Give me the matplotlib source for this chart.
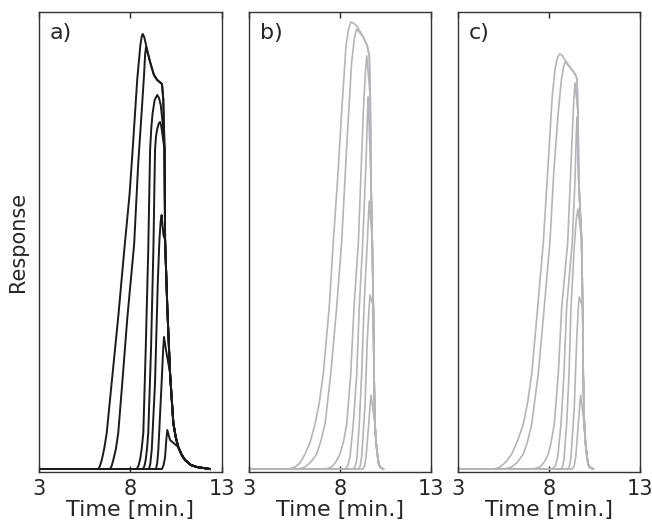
import matplotlib
matplotlib.use("Agg")
import matplotlib.pyplot as plt

# times [min.] and responses (arb. units)
a_t = [
    [3.0, 6.24, 6.33, 6.43, 6.56, 6.70, 6.97, 7.33, 7.66, 7.95, 8.12, 8.37, 8.54, 8.62, 8.67],
    [3.0, 6.88, 6.97, 7.06, 7.20, 7.33, 7.55, 7.83, 8.20, 8.42, 8.61, 8.74, 8.80, 8.85],
    [3.0, 8.34, 8.43, 8.52, 8.61, 8.70, 8.83, 8.97, 9.07, 9.14, 9.21, 9.32, 9.46, 9.56, 9.65, 9.77],
    [3.0, 8.68, 8.76, 8.83, 8.90, 8.97, 9.12, 9.25, 9.34, 9.39, 9.45, 9.53, 9.61, 9.68, 9.75],
    [3.0, 9.01, 9.08, 9.16, 9.34, 9.49, 9.58, 9.65, 9.70, 9.80],
    [3.0, 9.39, 9.46, 9.52, 9.70, 9.78, 9.83, 9.94],
    [3.0, 9.72, 9.81, 9.89, 9.96, 10.01, 10.16],
]
a_r = [
    [0, 0, 0.03, 0.09, 0.20, 0.36, 0.86, 1.52, 2.19, 2.75, 3.20, 3.90, 4.24, 4.33, 4.35],
    [0, 0, 0.03, 0.09, 0.20, 0.36, 0.86, 1.52, 2.25, 3.05, 3.57, 3.94, 4.15, 4.22],
    [0, 0, 0.03, 0.09, 0.20, 0.36, 1.19, 2.19, 3.19, 3.42, 3.56, 3.69, 3.74, 3.71, 3.64, 3.44],
    [0, 0, 0.03, 0.09, 0.20, 0.36, 1.19, 2.19, 3.19, 3.32, 3.39, 3.45, 3.47, 3.43, 3.34],
    [0, 0, 0.05, 0.19, 0.86, 1.86, 2.29, 2.48, 2.54, 2.34],
    [0, 0, 0.06, 0.19, 0.86, 1.18, 1.32, 1.19],
    [0, 0, 0.04, 0.12, 0.30, 0.39, 0.29],
]
a_tail_t = [8.75, 8.85, 9.07, 9.28, 9.46, 9.65, 9.72, 9.79, 9.86, 9.89, 10.01, 10.16,
            10.34, 10.47, 10.61, 10.80, 10.98, 11.30, 11.62, 12.34, 13.0]
a_tail_r = [4.32, 4.24, 4.07, 3.94, 3.89, 3.91, 3.85, 3.70, 3.19, 2.29, 1.62, 0.96,
            0.46, 0.32, 0.22, 0.14, 0.09, 0.04, 0.02, 0.0, 0.0]

b_t = [
    [3.0, 5.07, 5.35, 5.53, 5.80, 6.08, 6.36, 6.63, 6.86, 7.08, 7.41, 7.63, 7.87, 8.09, 8.33, 8.47, 8.60],
    [3.0, 5.69, 5.88, 6.08, 6.40, 6.72, 6.95, 7.18, 7.49, 7.82, 8.09, 8.37, 8.64, 8.80, 8.92],
    [3.0, 7.07, 7.30, 7.54, 7.77, 8.00, 8.20, 8.37, 8.59, 8.77, 9.01, 9.28, 9.40, 9.47],
    [3.0, 8.27, 8.42, 8.55, 8.73, 8.92, 9.06, 9.25, 9.43, 9.50, 9.55],
    [3.0, 8.73, 8.84, 8.92, 9.06, 9.19, 9.32, 9.50, 9.57, 9.61],
    [3.0, 9.01, 9.11, 9.19, 9.37, 9.50, 9.60, 9.65],
    [3.0, 9.25, 9.35, 9.43, 9.58, 9.66, 9.70],
]
b_r = [
    [0, 0, 0.008, 0.02, 0.06, 0.15, 0.27, 0.45, 0.66, 0.95, 1.62, 2.27, 2.90, 3.57, 4.23, 4.40, 4.47],
    [0, 0, 0.008, 0.02, 0.07, 0.15, 0.28, 0.45, 0.95, 1.62, 2.27, 3.23, 4.07, 4.32, 4.40],
    [0, 0, 0.006, 0.02, 0.07, 0.15, 0.28, 0.45, 0.95, 1.62, 2.27, 3.57, 3.98, 4.13],
    [0, 0, 0.03, 0.12, 0.45, 0.95, 1.62, 2.27, 3.07, 3.50, 3.72],
    [0, 0, 0.03, 0.09, 0.45, 0.95, 1.62, 2.27, 2.55, 2.68],
    [0, 0, 0.03, 0.12, 0.62, 1.29, 1.62, 1.74],
    [0, 0, 0.03, 0.12, 0.45, 0.66, 0.74],
]
b_tail_t = [8.72, 8.92, 9.28, 9.50, 9.61, 9.66, 9.70, 9.77, 9.83, 9.87, 9.92, 9.98,
            10.05, 10.12, 10.20, 10.38, 11.70]
b_tail_r = [4.46, 4.43, 4.32, 4.23, 4.13, 3.73, 2.90, 2.29, 1.62, 0.95, 0.45, 0.27,
            0.15, 0.06, 0.02, 0.0, 0.0]

c_t = [
    [3.0, 4.92, 5.12, 5.31, 5.63, 5.95, 6.27, 6.59, 6.83, 7.05, 7.38, 7.69, 7.96, 8.18, 8.33, 8.46, 8.57],
    [3.0, 5.47, 5.70, 5.95, 6.27, 6.59, 6.83, 7.05, 7.41, 7.74, 8.05, 8.27, 8.51, 8.68, 8.80, 8.88],
    [3.0, 6.96, 7.23, 7.51, 7.74, 7.96, 8.13, 8.29, 8.51, 8.70, 9.03, 9.25, 9.36, 9.43],
    [3.0, 8.18, 8.35, 8.48, 8.66, 8.82, 8.97, 9.28, 9.43, 9.50, 9.54],
    [3.0, 8.66, 8.75, 8.82, 8.97, 9.10, 9.21, 9.38, 9.50, 9.59],
    [3.0, 9.03, 9.13, 9.21, 9.39, 9.52, 9.61, 9.66],
    [3.0, 9.28, 9.38, 9.47, 9.61, 9.70, 9.74],
]
c_r = [
    [0, 0, 0.007, 0.02, 0.07, 0.15, 0.28, 0.45, 0.67, 0.95, 1.62, 2.27, 3.07, 3.73, 4.00, 4.11, 4.15],
    [0, 0, 0.007, 0.02, 0.07, 0.15, 0.28, 0.45, 0.95, 1.62, 2.27, 2.99, 3.57, 3.89, 4.02, 4.07],
    [0, 0, 0.006, 0.02, 0.07, 0.15, 0.28, 0.45, 0.95, 1.62, 2.27, 3.23, 3.68, 3.86],
    [0, 0, 0.03, 0.12, 0.45, 0.95, 1.62, 2.27, 2.90, 3.35, 3.52],
    [0, 0, 0.03, 0.09, 0.45, 0.95, 1.62, 2.20, 2.50, 2.60],
    [0, 0, 0.03, 0.12, 0.62, 1.285, 1.60, 1.72],
    [0, 0, 0.03, 0.12, 0.45, 0.66, 0.735],
]
c_tail_t = [8.70, 8.88, 9.15, 9.43, 9.54, 9.59, 9.63, 9.79, 9.85, 9.88, 9.94, 10.00,
            10.07, 10.14, 10.21, 10.43, 11.72]
c_tail_r = [4.14, 4.09, 4.02, 3.95, 3.90, 3.57, 2.90, 2.29, 1.62, 0.95, 0.45, 0.27,
            0.15, 0.06, 0.02, 0.0, 0.0]

panel_labels = ["a)", "b)", "c)"]
xticks = [3, 8, 13]


def join(t, r, tail_t, tail_r):
    # own rising part, then the shared falling front below the last own point
    tt, rr = list(t), list(r)
    for x, y in zip(tail_t, tail_r):
        if x > tt[-1] and y < rr[-1]:
            tt.append(x)
            rr.append(y)
    return tt, rr


plt.rcParams['font.family'] = ['DejaVu Sans']
fig = plt.figure(figsize=(6.52, 5.28), dpi=100)

lefts = [39 / 652, 249 / 652, 458 / 652]
widths = [183 / 652, 182 / 652, 182 / 652]
bottom = 1 - 472 / 528
height = (472 - 12) / 528

panels = [(a_t, a_r, a_tail_t, a_tail_r, '#1c1a1b', 1.4),
          (b_t, b_r, b_tail_t, b_tail_r, '#b5b5b9', 1.2),
          (c_t, c_r, c_tail_t, c_tail_r, '#b5b5b9', 1.2)]

txt = '#262626'
for i, (ts, rs, tlt, tlr, col, lw) in enumerate(panels):
    ax = fig.add_axes([lefts[i], bottom, widths[i], height])
    for t, r in zip(ts, rs):
        tt, rr = join(t, r, tlt, tlr)
        ax.plot(tt, rr, color=col, lw=lw, solid_joinstyle='round')
    ax.set_xlim(3, 13)
    ax.set_ylim(-0.03, 4.57)
    ax.set_xticks(xticks)
    ax.set_yticks([])
    ax.tick_params(axis='x', direction='in', top=True, length=4, width=1,
                   labelsize=15, colors=txt, pad=5)
    for s in ax.spines.values():
        s.set_color('#333333')
        s.set_linewidth(1.0)
    ax.set_xlabel("Time [min.]", fontsize=16, color=txt, labelpad=1)
    ax.text(0.06, 0.975, panel_labels[i], transform=ax.transAxes,
            fontsize=16, color=txt, va='top', ha='left')
    if i == 0:
        ax.set_ylabel("Response", fontsize=15, color=txt, labelpad=8)

fig.savefig("out.png", dpi=100)
